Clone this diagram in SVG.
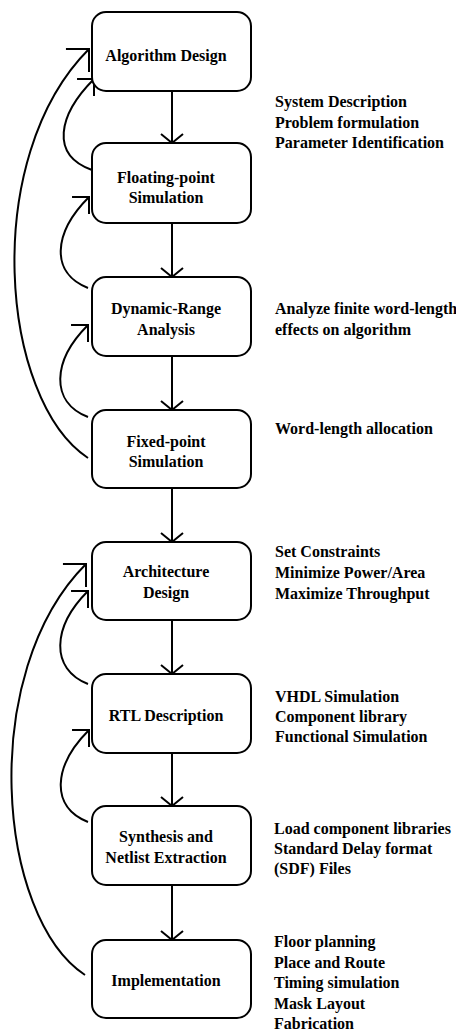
<svg xmlns="http://www.w3.org/2000/svg" width="456" height="1032" viewBox="0 0 456 1032">
<style>
.box{fill:#fff;stroke:#000;stroke-width:2}
.t{font-family:"Liberation Serif","Times New Roman",serif;font-weight:bold;font-size:16px;fill:#000}
.c{text-anchor:middle}
.flow{fill:none;stroke:#000;stroke-width:2;marker-end:url(#down)}
.fb{fill:none;stroke:#000;stroke-width:2;marker-end:url(#hs)}
.fbb{fill:none;stroke:#000;stroke-width:2;marker-end:url(#hb)}
</style>
<defs>
<marker id="down" markerUnits="userSpaceOnUse" orient="auto" refX="0" refY="0" markerWidth="30" markerHeight="30" overflow="visible">
<path d="M-9,-11 L0,0 L-9,11" fill="none" stroke="#000" stroke-width="2"/>
</marker>
<marker id="hs" markerUnits="userSpaceOnUse" orient="auto" refX="0" refY="0" markerWidth="30" markerHeight="30" overflow="visible">
<path d="M-12,12 L0,0 L-12,-12" fill="none" stroke="#000" stroke-width="2"/>
</marker>
<marker id="hb" markerUnits="userSpaceOnUse" orient="auto" refX="0" refY="0" markerWidth="40" markerHeight="40" overflow="visible">
<path d="M-16.3,16.3 L0,0 L-16.3,-16.3" fill="none" stroke="#000" stroke-width="2"/>
</marker>
</defs>
<g id="connectors">
<path class="flow" d="M172,91 V143"/>
<path class="flow" d="M172,223 V277"/>
<path class="flow" d="M172,356 V410"/>
<path class="flow" d="M172,488 V542"/>
<path class="flow" d="M172,620 V674"/>
<path class="flow" d="M172,753 V806"/>
<path class="flow" d="M172,885 V940"/>
<path class="fb" d="M92,170 C50,155 58,115 94,79"/>
<path class="fb" d="M88,288 C50,273 53,233 89,197"/>
<path class="fb" d="M88,417 C50,402 52,361 88,325"/>
<path class="fbb" d="M88,458 C0,400 -20,158 89,49"/>
<path class="fb" d="M88,684 C50,669 52,627 88,591"/>
<path class="fb" d="M88,822 C50,807 53,766 89,730"/>
<path class="fbb" d="M85,975 C-3,917 -23,673 86,564"/>
</g>
<g id="algorithm-design">
<rect class="box" x="92" y="12" width="159" height="79" rx="14"/>
<text class="t c" x="166" y="61">Algorithm Design</text>
</g>
<g id="floating-point">
<rect class="box" x="92" y="143" width="159" height="80" rx="14"/>
<text class="t c" x="166" y="183">Floating-point</text>
<text class="t c" x="166" y="203">Simulation</text>
</g>
<g id="dynamic-range">
<rect class="box" x="92" y="277" width="159" height="79" rx="14"/>
<text class="t c" x="166" y="314">Dynamic-Range</text>
<text class="t c" x="166" y="335">Analysis</text>
</g>
<g id="fixed-point">
<rect class="box" x="92" y="410" width="159" height="78" rx="14"/>
<text class="t c" x="166" y="447">Fixed-point</text>
<text class="t c" x="166" y="467">Simulation</text>
</g>
<g id="architecture">
<rect class="box" x="92" y="542" width="159" height="78" rx="14"/>
<text class="t c" x="166" y="577">Architecture</text>
<text class="t c" x="166" y="598">Design</text>
</g>
<g id="rtl">
<rect class="box" x="92" y="674" width="159" height="79" rx="14"/>
<text class="t c" x="166" y="721">RTL Description</text>
</g>
<g id="synthesis">
<rect class="box" x="92" y="806" width="159" height="79" rx="14"/>
<text class="t c" x="166" y="842">Synthesis and</text>
<text class="t c" x="166" y="863">Netlist Extraction</text>
</g>
<g id="implementation">
<rect class="box" x="92" y="940" width="159" height="78" rx="14"/>
<text class="t c" x="166" y="986">Implementation</text>
</g>
<g id="notes">
<text class="t" x="275" y="107">System Description</text>
<text class="t" x="275" y="128">Problem formulation</text>
<text class="t" x="275" y="148">Parameter Identification</text>
<text class="t" x="275" y="314">Analyze finite word-length</text>
<text class="t" x="275" y="335">effects on algorithm</text>
<text class="t" x="275" y="434">Word-length allocation</text>
<text class="t" x="275" y="557">Set Constraints</text>
<text class="t" x="275" y="578">Minimize Power/Area</text>
<text class="t" x="275" y="599">Maximize Throughput</text>
<text class="t" x="275" y="702">VHDL Simulation</text>
<text class="t" x="275" y="722">Component library</text>
<text class="t" x="275" y="742">Functional Simulation</text>
<text class="t" x="274" y="834">Load component libraries</text>
<text class="t" x="274" y="854">Standard Delay format</text>
<text class="t" x="274" y="874">(SDF) Files</text>
<text class="t" x="274" y="947">Floor planning</text>
<text class="t" x="274" y="968">Place and Route</text>
<text class="t" x="274" y="988">Timing simulation</text>
<text class="t" x="274" y="1009">Mask Layout</text>
<text class="t" x="274" y="1029">Fabrication</text>
</g>
</svg>
